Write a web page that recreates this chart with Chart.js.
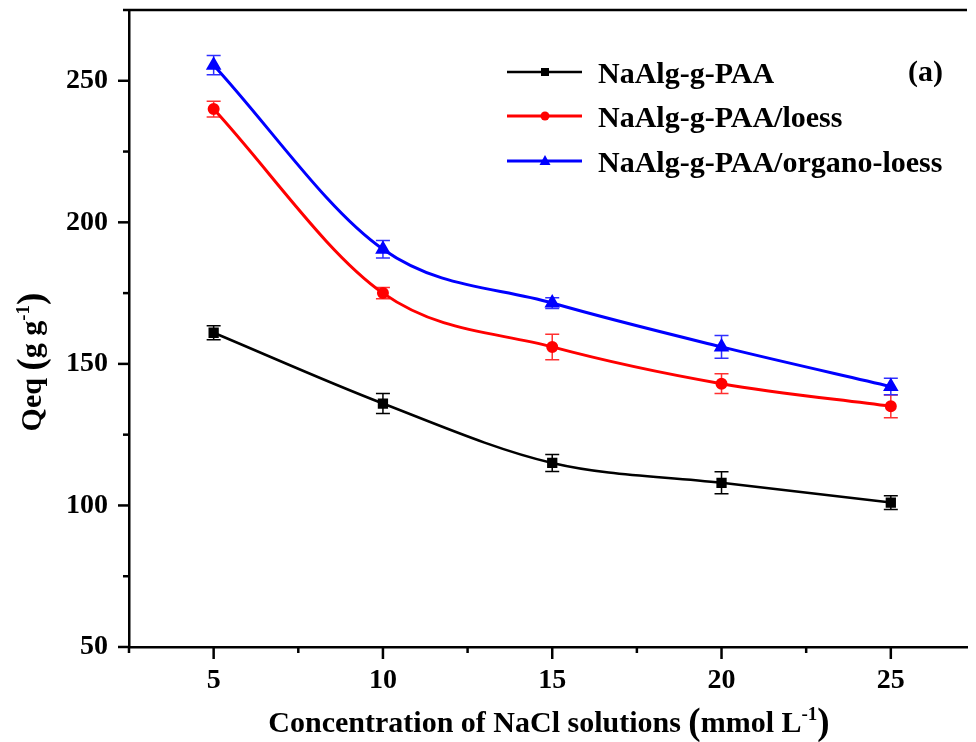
<!DOCTYPE html>
<html>
<head>
<meta charset="utf-8">
<script src="https://cdn.jsdelivr.net/npm/chart.js@4.4.1/dist/chart.umd.min.js"></script>
<style>
  html, body { margin: 0; padding: 0; background: #fff; overflow: hidden; }
  #wrap { width: 976px; height: 742px; }
</style>
</head>
<body>
<div id="wrap"><canvas id="chart" width="976" height="742"></canvas></div>
<script>
// data
const concentration = [5, 10, 15, 20, 25];
const seriesNames = ["NaAlg-g-PAA", "NaAlg-g-PAA/loess", "NaAlg-g-PAA/organo-loess"];
const qeqPAA = [161, 136, 115, 108, 101];
const qeqLoess = [240, 175, 156, 143, 135];
const qeqOrgano = [255.5, 190.5, 171.5, 156, 142];
const errPAA = [2.5, 3.5, 3, 3.9, 2.4];
const errLoess = [2.8, 2, 4.5, 3.5, 4];
const errOrgano = [3.4, 3.1, 1.9, 4, 2.9];

const serif = "'Liberation Serif', 'Times New Roman', serif";

function points(ys) {
  return concentration.map((x, i) => ({ x: x, y: ys[i] }));
}

// error bars, drawn under the markers
const errorBars = {
  id: "errorBars",
  beforeDatasetsDraw(chart) {
    const ctx = chart.ctx;
    const xs = chart.scales.x, ys = chart.scales.y;
    chart.data.datasets.forEach(ds => {
      ctx.save();
      ctx.strokeStyle = ds.errColor;
      ctx.lineWidth = 1.5;
      ds.data.forEach((p, i) => {
        const px = xs.getPixelForValue(p.x);
        const top = ys.getPixelForValue(p.y + ds.err[i]);
        const bot = ys.getPixelForValue(p.y - ds.err[i]);
        ctx.beginPath();
        ctx.moveTo(px, top); ctx.lineTo(px, bot);
        ctx.moveTo(px - 7, top); ctx.lineTo(px + 7, top);
        ctx.moveTo(px - 7, bot); ctx.lineTo(px + 7, bot);
        ctx.stroke();
      });
      ctx.restore();
    });
  }
};

// frame, tick marks, axis titles, legend
const decor = {
  id: "decor",
  afterDraw(chart) {
    const ctx = chart.ctx;
    const a = chart.chartArea;
    const xs = chart.scales.x, ys = chart.scales.y;
    ctx.save();
    ctx.strokeStyle = "#000";
    ctx.lineWidth = 2.5;
    ctx.beginPath();
    ctx.moveTo(a.left, a.top); ctx.lineTo(a.right, a.top);
    ctx.stroke();

    ys.ticks.forEach(t => {
      const py = ys.getPixelForValue(t.value);
      const len = t.value % 50 === 0 ? 11 : 6;
      ctx.beginPath();
      ctx.moveTo(a.left, py); ctx.lineTo(a.left - len, py);
      ctx.stroke();
    });
    xs.ticks.forEach(t => {
      if (t.value > 25.01) return;
      const px = xs.getPixelForValue(t.value);
      const len = t.value % 5 === 0 ? 12 : 6;
      ctx.beginPath();
      ctx.moveTo(px, a.bottom); ctx.lineTo(px, a.bottom + len);
      ctx.stroke();
    });

    ctx.fillStyle = "#000";
    // x title
    drawRich(ctx, [
      ["Concentration of NaCl solutions ", 30, 0],
      ["(", 37, 2],
      ["mmol L", 30, 0],
      ["-1", 19, -12],
      [")", 37, 2]
    ], 549, 732);

    // y title
    ctx.save();
    ctx.translate(41, 362);
    ctx.rotate(-Math.PI / 2);
    drawRich(ctx, [
      ["Qeq ", 30, 0],
      ["(", 37, 2],
      ["g g", 30, 0],
      ["-1", 19, -12],
      [")", 37, 2]
    ], 0, 0);
    ctx.restore();

    // panel label
    ctx.font = "bold 30px " + serif;
    ctx.textAlign = "right";
    ctx.textBaseline = "alphabetic";
    ctx.fillText("(a)", 943, 81);

    // legend
    const rows = [72, 116, 161];
    chart.data.datasets.forEach((ds, i) => {
      const y = rows[i];
      ctx.strokeStyle = ds.borderColor;
      ctx.lineWidth = ds.borderWidth;
      ctx.beginPath();
      ctx.moveTo(507, y); ctx.lineTo(582, y);
      ctx.stroke();
      ctx.fillStyle = ds.borderColor;
      marker(ctx, ds.pointStyle, 545, y);
      ctx.fillStyle = "#000";
      ctx.font = "bold 30px " + serif;
      ctx.textAlign = "left";
      ctx.textBaseline = "alphabetic";
      ctx.fillText(ds.label, 598, y + 11);
    });
    ctx.restore();
  }
};

function drawRich(ctx, parts, cx, baseY) {
  let total = 0;
  parts.forEach(p => {
    ctx.font = "bold " + p[1] + "px " + serif;
    total += ctx.measureText(p[0]).width;
  });
  let x = cx - total / 2;
  ctx.textAlign = "left";
  ctx.textBaseline = "alphabetic";
  parts.forEach(p => {
    ctx.font = "bold " + p[1] + "px " + serif;
    ctx.fillText(p[0], x, baseY + p[2]);
    x += ctx.measureText(p[0]).width;
  });
}

function marker(ctx, style, x, y) {
  ctx.beginPath();
  if (style === "rect") {
    ctx.rect(x - 4, y - 4, 8, 8);
  } else if (style === "circle") {
    ctx.arc(x, y, 4.5, 0, Math.PI * 2);
  } else {
    ctx.moveTo(x, y - 6); ctx.lineTo(x + 5.5, y + 4); ctx.lineTo(x - 5.5, y + 4);
    ctx.closePath();
  }
  ctx.fill();
}

new Chart(document.getElementById("chart"), {
  type: "line",
  data: {
    datasets: [
      {
        label: seriesNames[0],
        data: points(qeqPAA),
        err: errPAA,
        errColor: "#000",
        borderColor: "#000000",
        backgroundColor: "#000000",
        borderWidth: 2.5,
        pointStyle: "rect",
        pointRadius: 5.5
      },
      {
        label: seriesNames[1],
        data: points(qeqLoess),
        err: errLoess,
        errColor: "#ff3030",
        borderColor: "#ff0000",
        backgroundColor: "#ff0000",
        borderWidth: 3,
        pointStyle: "circle",
        pointRadius: 4.5
      },
      {
        label: seriesNames[2],
        data: points(qeqOrgano),
        err: errOrgano,
        errColor: "#3030ff",
        borderColor: "#0000ff",
        backgroundColor: "#0000ff",
        borderWidth: 3,
        pointStyle: "triangle",
        pointRadius: 6
      }
    ]
  },
  options: {
    responsive: false,
    animation: false,
    devicePixelRatio: 1,
    cubicInterpolationMode: "monotone",
    elements: { point: { borderWidth: 0 } },
    layout: { padding: { top: 10, left: 0, right: 0, bottom: 0 } },
    plugins: {
      legend: { display: false },
      tooltip: { enabled: false }
    },
    scales: {
      x: {
        type: "linear",
        min: 2.5,
        max: 27.25,
        grid: { display: false, drawTicks: false },
        border: { display: true, color: "#000", width: 2.5 },
        ticks: {
          stepSize: 2.5,
          includeBounds: false,
          padding: 17,
          color: "#000",
          font: { family: serif, size: 28, weight: "bold" },
          maxRotation: 0,
          autoSkip: false,
          callback: v => (v % 5 === 0 && v <= 25 ? String(v) : "")
        },
        afterFit(scale) {
          scale.height = 95;
          scale.paddingLeft = 0;
          scale.paddingRight = 0;
        }
      },
      y: {
        min: 50,
        max: 275,
        grid: { display: false, drawTicks: false },
        border: { display: true, color: "#000", width: 2.5 },
        ticks: {
          stepSize: 25,
          padding: 21,
          color: "#000",
          font: { family: serif, size: 28, weight: "bold" },
          autoSkip: false,
          callback: v => (v % 50 === 0 && v < 275 ? String(v) : "")
        },
        afterFit(scale) {
          scale.width = 129;
          scale.paddingTop = 0;
          scale.paddingBottom = 0;
        }
      }
    }
  },
  plugins: [errorBars, decor]
});
</script>
</body>
</html>
